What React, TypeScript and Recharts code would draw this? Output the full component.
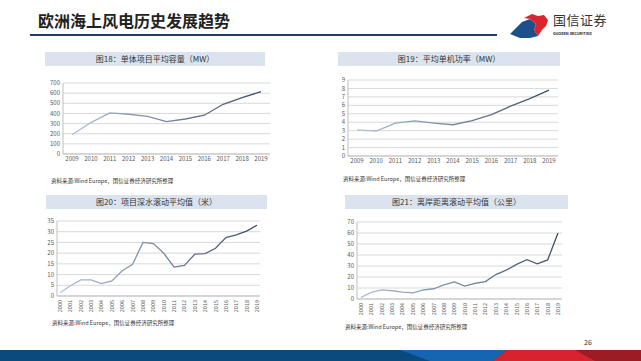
import React from "react";
import { CartesianGrid, Line, LineChart, XAxis, YAxis } from "recharts";

const years18 = ["2009", "2010", "2011", "2012", "2013", "2014", "2015", "2016", "2017", "2018", "2019"];
const capacity18 = [190, 310, 405, 392, 370, 320, 345, 382, 490, 555, 615];
const ticks18 = [0, 100, 200, 300, 400, 500, 600, 700];

const power19 = [3.1, 2.95, 3.9, 4.15, 3.9, 3.7, 4.2, 4.9, 5.9, 6.8, 7.8];
const ticks19 = [0, 1, 2, 3, 4, 5, 6, 7, 8, 9];

const years20 = [
  "2000", "2001", "2002", "2003", "2004", "2005", "2006", "2007", "2008", "2009",
  "2010", "2011", "2012", "2013", "2014", "2015", "2016", "2017", "2018", "2019",
];
const depth20 = [1.5, 4.8, 7.5, 7.5, 5.8, 7, 11.8, 14.8, 25, 24.5, 20, 13.5, 14.3, 19.5, 19.8, 22.3, 27.3, 28.5, 30.3, 33];
const ticks20 = [0, 5, 10, 15, 20, 25, 30, 35];

const distance21 = [1.5, 6, 8.3, 7.5, 6.3, 5.6, 8.2, 9.3, 12.8, 15.6, 11.8, 14.2, 15.8, 22.2, 26.2, 31.5, 35.8, 32, 35.5, 60];
const ticks21 = [0, 10, 20, 30, 40, 50, 60, 70];

const source = "资料来源:Wind Europe，国信证券经济研究所整理";
const font = "'Noto Sans CJK SC', 'Noto Sans', sans-serif";
const tickStyle = { fontSize: 6, fill: "#595959", fontFamily: font };

function VTick(props: any) {
  const { x, y, payload } = props;
  return (
    <text
      transform={`translate(${x},${y + 4}) rotate(-90)`}
      textAnchor="end"
      dominantBaseline="central"
      fontSize={5.5}
      fill="#595959"
      fontFamily={font}
    >
      {payload.value}
    </text>
  );
}

type PanelProps = {
  id: string;
  cats: string[];
  values: number[];
  ticks: number[];
  left: number;
  top: number;
  width: number;
  height: number;
  yWidth: number;
  xHeight: number;
  pad: number;
  vertical?: boolean;
};

function Panel({ id, cats, values, ticks, left, top, width, height, yWidth, xHeight, pad, vertical }: PanelProps) {
  const data = cats.map((c, i) => ({ year: c, v: values[i] }));
  return (
    <div style={{ position: "absolute", left, top }}>
      <LineChart width={width} height={height} data={data} margin={{ top: 8, right: 0, bottom: 0, left: 0 }}>
        <defs>
          <linearGradient id={id} x1="0" y1="0" x2="1" y2="0">
            <stop offset="0" stopColor="#aec1d6" />
            <stop offset="1" stopColor="#3c4c68" />
          </linearGradient>
        </defs>
        <CartesianGrid stroke="#d9d9d9" vertical={false} />
        <XAxis
          dataKey="year"
          height={xHeight}
          padding={{ left: pad, right: pad }}
          tickLine={false}
          axisLine={{ stroke: "#bfbfbf" }}
          interval={0}
          tickSize={0}
          tickMargin={vertical ? 0 : 3}
          tick={vertical ? <VTick /> : tickStyle}
        />
        <YAxis
          width={yWidth}
          domain={[ticks[0], ticks[ticks.length - 1]]}
          ticks={ticks}
          interval={0}
          tickLine={false}
          axisLine={{ stroke: "#bfbfbf" }}
          tickSize={0}
          tickMargin={3}
          tick={tickStyle}
        />
        <Line
          dataKey="v"
          stroke={`url(#${id})`}
          strokeWidth={1.3}
          dot={false}
          isAnimationActive={false}
        />
      </LineChart>
    </div>
  );
}

function TitleBar({ text, left, top, width }: { text: string; left: number; top: number; width: number }) {
  return (
    <div
      style={{
        position: "absolute",
        left,
        top,
        width,
        height: 14,
        background: "#dbe3ee",
        color: "#333",
        fontSize: 8,
        lineHeight: "14px",
        textAlign: "center",
        fontFamily: font,
      }}
    >
      {text}
    </div>
  );
}

function Source({ left, top }: { left: number; top: number }) {
  return (
    <div style={{ position: "absolute", left, top, fontSize: 5.5, color: "#333", fontFamily: font, whiteSpace: "nowrap" }}>
      {source}
    </div>
  );
}

export default function App() {
  return (
    <div style={{ position: "fixed", left: 0, top: 0, width: 641, height: 361, background: "#fff", overflow: "hidden", fontFamily: font }}>
      <div style={{ position: "absolute", left: 38, top: 9, fontSize: 16, fontWeight: 700, color: "#222", whiteSpace: "nowrap", lineHeight: "22px" }}>
        欧洲海上风电历史发展趋势
      </div>
      <div style={{ position: "absolute", left: 30, top: 34, width: 467, height: 2, background: "#1f3f66" }} />
      <svg style={{ position: "absolute", left: 508, top: 12 }} width={42} height={28}>
        <polygon points="2,22 14,10 22,7 28,12 26,18 30,24 22,26 12,26" fill="#1d4f8a" />
        <polygon points="16,6 24,2 30,4 36,3 40,8 38,14 34,18 30,24 26,18 28,12 22,7" fill="#d9262e" />
      </svg>
      <div style={{ position: "absolute", left: 553, top: 12, fontSize: 13, color: "#333", letterSpacing: 0.5, lineHeight: "16px", whiteSpace: "nowrap" }}>
        国信证券
      </div>
      <div style={{ position: "absolute", left: 553, top: 31, fontSize: 4, fontWeight: 700, color: "#333", whiteSpace: "nowrap", fontFamily: "Roboto, sans-serif" }}>
        GUOSEN SECURITIES
      </div>

      <TitleBar text="图18：单体项目平均容量（MW）" left={45} top={52} width={220} />
      <Panel id="g18" cats={years18} values={capacity18} ticks={ticks18} left={30} top={75} width={240} height={100} yWidth={33} xHeight={21} pad={9} />
      <Source left={51} top={177} />

      <TitleBar text="图19：平均单机功率（MW）" left={338} top={52} width={222} />
      <Panel id="g19" cats={years18} values={power19} ticks={ticks19} left={335} top={72} width={223} height={100} yWidth={13} xHeight={16} pad={9} />
      <Source left={343} top={175} />

      <TitleBar text="图20：项目深水滚动平均值（米）" left={46} top={195} width={221} />
      <Panel id="g20" cats={years20} values={depth20} ticks={ticks20} left={30} top={213} width={230} height={103} yWidth={27} xHeight={20} pad={3} vertical />
      <Source left={52} top={319} />

      <TitleBar text="图21：离岸距离滚动平均值（公里）" left={345} top={195} width={223} />
      <Panel id="g21" cats={years20} values={distance21} ticks={ticks21} left={335} top={214} width={227} height={105} yWidth={22} xHeight={20} pad={4} vertical />
      <Source left={345} top={323} />

      <div style={{ position: "absolute", left: 584, top: 337, fontSize: 7, color: "#333" }}>26</div>
      <svg style={{ position: "absolute", left: 0, top: 350 }} width={641} height={11}>
        <rect x={0} y={0} width={641} height={11} fill="#0a4a7c" />
        <polygon points="400,0 507,0 493,11 430,11" fill="#1565b0" />
        <polygon points="507,0 641,0 641,11 493,11" fill="#d8232e" />
        <polygon points="575,0 641,0 641,11 595,11" fill="#9c1c24" />
      </svg>
    </div>
  );
}
